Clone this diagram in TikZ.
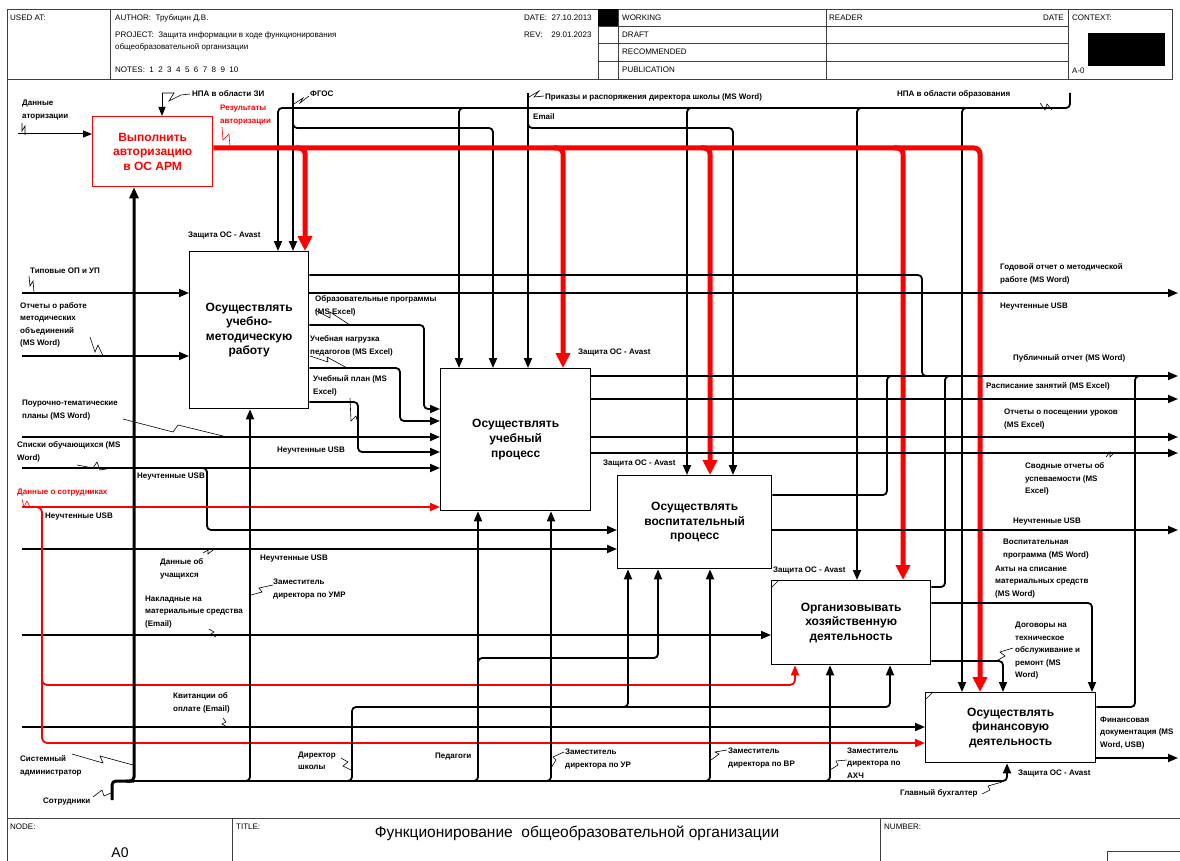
\documentclass[tikz,border=0pt]{standalone}
\usepackage{fontspec}
\setmainfont{Liberation Sans}
\usetikzlibrary{arrows.meta}
\begin{document}
\begin{tikzpicture}[x=1pt,y=-1pt,
  frame/.style={line width=0.8pt, draw=black!75},
  box/.style={draw, line width=1.3pt, fill=white, inner sep=0pt, anchor=north west,
    align=center, font=\fontsize{12}{14.6}\selectfont\bfseries},
  flow/.style={line width=1.8pt, rounded corners=4pt},
  arr/.style={flow, -{Triangle[length=10pt,width=8pt]}},
  thinarr/.style={line width=1pt, -{Triangle[length=9pt,width=7pt]}},
  redflow/.style={draw=red, line width=5pt, rounded corners=6pt},
  redarr/.style={redflow, -{Triangle[length=15pt,width=14pt]}},
  redthin/.style={draw=red, line width=1.8pt, rounded corners=5pt},
  redthinarr/.style={redthin, -{Triangle[length=10pt,width=8pt]}},
  lab/.style={font=\fontsize{8}{12.5}\selectfont\bfseries, align=left, inner sep=0pt, anchor=west},
  redlab/.style={lab, text=red},
  hdr/.style={font=\fontsize{8}{10}\selectfont, inner sep=0pt, anchor=west},
  leader/.style={line width=0.6pt},
  redleader/.style={line width=0.6pt, draw=red},
]
\useasboundingbox (0,0) rectangle (1180,861);

% ---------- header form ----------
\draw[frame] (7,9) rectangle (1172,79);
\draw[frame] (110,9) -- (110,79);
\draw[frame] (598,9) -- (598,79);
\draw[frame] (618,9) -- (618,79);
\draw[frame] (826,9) -- (826,79);
\draw[frame] (1068,9) -- (1068,79);
\foreach \y in {26,43,61} \draw[frame] (598,\y) -- (1068,\y);
\fill (598,9) rectangle (618,26);
\fill (1088,33) rectangle (1165,66);
\node[hdr] (h1) at (10,18) {USED AT:};
\node[hdr] (h2) at (115,18) {AUTHOR:\ \ Трубицин Д.В.};
\node[hdr] (h3) at (115,35) {PROJECT:\ \ Защита информации в ходе функционирования};
\node[hdr] (h4) at (115,47) {общеобразовательной организации};
\node[hdr] (h5) at (115,70) {NOTES:\ \ 1\ \ 2\ \ 3\ \ 4\ \ 5\ \ 6\ \ 7\ \ 8\ \ 9\ \ 10};
\node[hdr] (h6) at (524,18) {DATE:\ \ 27.10.2013};
\node[hdr] (h7) at (524,35) {REV:\ \ \ \ 29.01.2023};
\node[hdr] (h8) at (622,18) {WORKING};
\node[hdr] (h9) at (622,35) {DRAFT};
\node[hdr] (h10) at (622,52) {RECOMMENDED};
\node[hdr] (h11) at (622,70) {PUBLICATION};
\node[hdr] (h12) at (829,18) {READER};
\node[hdr, anchor=east] (h13) at (1064,18) {DATE};
\node[hdr] (h14) at (1072,18) {CONTEXT:};
\node[hdr] (h15) at (1072,71) {A-0};

% ---------- page frame and footer ----------
\draw[frame] (7,79) -- (7,861);
\draw[frame] (7,818) -- (1180,818);
\draw[frame] (232,818) -- (232,861);
\draw[frame] (880,818) -- (880,861);
\draw[frame] (1107,861) -- (1107,851) -- (1180,851);
\node[hdr] (f1) at (10,827) {NODE:};
\node[hdr] (f2) at (236,827) {TITLE:};
\node[hdr] (f3) at (884,827) {NUMBER:};
\node[font=\fontsize{14}{16}\selectfont, inner sep=0pt] (f4) at (120,853) {A0};
\node[font=\fontsize{15.5}{18}\selectfont, inner sep=0pt] (f5) at (577,833)
  {Функционирование\ \ общеобразовательной организации};

% ---------- activity boxes ----------
\node[box, draw=red, text=red, minimum width=120pt, minimum height=70pt] (bA) at (92,116)
  {Выполнить\\авторизацию\\в ОС АРМ};
\node[box, minimum width=119pt, minimum height=157pt] (b1) at (189,251)
  {Осуществлять\\учебно-\\методическую\\работу};
\node[box, minimum width=150pt, minimum height=142pt] (b2) at (440,368)
  {Осуществлять\\учебный\\процесс};
\node[box, minimum width=154pt, minimum height=93pt] (b3) at (617,475)
  {Осуществлять\\воспитательный\\процесс};
\node[box, minimum width=159pt, minimum height=84pt] (b4) at (771,580)
  {Организовывать\\хозяйственную\\деятельность};
\node[box, minimum width=170pt, minimum height=70pt] (b5) at (925,692)
  {Осуществлять\\финансовую\\деятельность};
\draw[leader] (771,588) -- (779,580);
\draw[leader] (925,700) -- (933,692);

% ---------- controls from the top ----------
\draw[thinarr] (162,93) -- (162,93 |- bA.north);
\draw[arr] (293,93) -- (293,93 |- b1.north);
\draw[arr] (293,120) -- (293,128) -- (493,128) -- (493,128 |- b2.north);
\draw[arr] (1070,93) -- (1070,108) -- (278,108) -- (278,108 |- b1.north);
\draw[arr] (466,108) -- (459,108) -- (459,108 |- b2.north);
\draw[arr] (694,108) -- (687,108) -- (687,108 |- b3.north);
\draw[arr] (864,108) -- (857,108) -- (857,108 |- b4.north);
\draw[arr] (969,108) -- (962,108) -- (962,108 |- b5.north);
\draw[arr] (528,93) -- (528,93 |- b2.north);
\draw[arr] (528,120) -- (528,128) -- (733,128) -- (733,128 |- b3.north);

% authorisation result (red bus)
\draw[redarr] (0,148 -| bA.east) -- (980,148) -- (980,148 |- b5.north);
\draw[redarr] (296,148) -- (305,148) -- (305,148 |- b1.north);
\draw[redarr] (554,148) -- (563,148) -- (563,148 |- b2.north);
\draw[redarr] (701,148) -- (710,148) -- (710,148 |- b3.north);
\draw[redarr] (894,148) -- (903,148) -- (903,148 |- b4.north);

% ---------- inputs from the left ----------
\draw[thinarr] (18,134) -- (18,134 -| bA.west);
\draw[arr] (22,293) -- (22,293 -| b1.west);
\draw[arr] (22,356) -- (22,356 -| b1.west);
\draw[arr] (22,437) -- (22,437 -| b2.west);
\draw[arr] (22,468) -- (22,468 -| b2.west);
\draw[arr] (200,468) -- (207,468) -- (207,530) -- (207,530 -| b3.west);
\draw[arr] (22,549) -- (22,549 -| b3.west);
\draw[arr] (22,635) -- (22,635 -| b4.west);
\draw[arr] (22,727) -- (22,727 -| b5.west);
\draw[redthinarr] (22,507) -- (22,507 -| b2.west);
\draw[redthinarr] (35,507) -- (42,507) -- (42,743) -- (42,743 -| b5.west);
\draw[redthinarr] (42,678) -- (42,685) -- (795,685) -- (795,685 |- b4.south);

% ---------- outputs of the methodical work ----------
\draw[flow] (b1.east |- 0,275) -- (922,275) -- (922,376) -- (932,376);
\draw[arr] (b1.east |- 0,293) -- (1178,293);
\draw[arr] (b1.east |- 0,325) -- (424,325) -- (424,409) -- (424,409 -| b2.west);
\draw[arr] (b1.east |- 0,368) -- (400,368) -- (400,421) -- (400,421 -| b2.west);
\draw[arr] (b1.east |- 0,402) -- (358,402) -- (358,452) -- (358,452 -| b2.west);

% outputs of the teaching process
\draw[arr] (b2.east |- 0,376) -- (1178,376);
\draw[arr] (b2.east |- 0,399) -- (1178,399);
\draw[arr] (b2.east |- 0,437) -- (1178,437);
\draw[arr] (b2.east |- 0,453) -- (1178,453);

% outputs of the upbringing process
\draw[flow] (b3.east |- 0,495) -- (887,495) -- (887,376) -- (897,376);
\draw[arr] (b3.east |- 0,530) -- (1178,530);

% outputs of the economic activity
\draw[flow] (b4.east |- 0,587) -- (945,587) -- (945,376) -- (955,376);
\draw[arr] (b4.east |- 0,603) -- (1092,603) -- (1092,603 |- b5.north);
\draw[arr] (b4.east |- 0,661) -- (1003,661) -- (1003,661 |- b5.north);

% outputs of the financial activity
\draw[flow] (b5.east |- 0,707) -- (1135,707) -- (1135,376) -- (1145,376);
\draw[arr] (b5.east |- 0,758) -- (1178,758);

% ---------- mechanisms from the bottom ----------
\draw[arr] (128,781) -- (1007,781) -- (1007,781 |- b5.south);
\draw[flow, line width=3pt] (112,800) -- (112,781) -- (134,781);
\draw[flow, line width=3pt, -{Triangle[length=11pt,width=9pt]}] (126,781) -- (134,781) -- (134,781 |- bA.south);
\draw[arr] (243,781) -- (250,781) -- (250,781 |- b1.south);
\draw[arr] (345,781) -- (352,781) -- (352,707) -- (890,707) -- (890,707 |- b4.south);
\draw[arr] (621,707) -- (628,707) -- (628,707 |- b3.south);
\draw[arr] (471,781) -- (478,781) -- (478,781 |- b2.south);
\draw[arr] (478,665) -- (478,658) -- (658,658) -- (658,658 |- b3.south);
\draw[arr] (544,781) -- (551,781) -- (551,781 |- b2.south);
\draw[arr] (703,781) -- (710,781) -- (710,781 |- b3.south);
\draw[arr] (823,781) -- (830,781) -- (830,781 |- b4.south);

% ---------- labels ----------
\node[lab] (t1) at (22,110) {Данные\\аторизации};
\node[lab] (t2) at (192,94) {НПА в области ЗИ};
\node[redlab] (t3) at (220,115) {Результаты\\авторизации};
\node[lab] (t4) at (310,94) {ФГОС};
\node[lab] (t5) at (545,97) {Приказы и распоряжения директора школы (MS Word)};
\node[lab] (t6) at (533,117) {Email};
\node[lab] (t7) at (897,94) {НПА в области образования};
\node[lab] (t8) at (188,236) {Защита ОС - Avast};
\node[lab] (t9) at (578,353) {Защита ОС - Avast};
\node[lab] (t10) at (603,464) {Защита ОС - Avast};
\node[lab] (t11) at (773,570) {Защита ОС - Avast};
\node[lab] (t12) at (1018,773) {Защита ОС - Avast};
\node[lab] (t13) at (30,271) {Типовые ОП и УП};
\node[lab] (t14) at (20,325) {Отчеты о работе\\методических\\объединений\\(MS Word)};
\node[lab] (t15) at (315,306) {Образовательные программы\\(MS Excel)};
\node[lab] (t16) at (310,346) {Учебная нагрузка\\педагогов (MS Excel)};
\node[lab] (t17) at (313,386) {Учебный план (MS\\Excel)};
\node[lab] (t18) at (22,410) {Поурочно-тематические\\планы (MS Word)};
\node[lab] (t19) at (17,452) {Списки обучающихся (MS\\Word)};
\node[lab] (t20) at (277,451) {Неучтенные USB};
\node[lab] (t21) at (137,477) {Неучтенные USB};
\node[redlab] (t22) at (17,493) {Данные о сотрудниках};
\node[lab] (t23) at (45,517) {Неучтенные USB};
\node[lab] (t24) at (260,559) {Неучтенные USB};
\node[lab] (t25) at (160,569) {Данные об\\учащихся};
\node[lab] (t26) at (273,589) {Заместитель\\директора по УМР};
\node[lab] (t27) at (145,612) {Накладные на\\материальные средства\\(Email)};
\node[lab] (t28) at (173,703) {Квитанции об\\оплате (Email)};
\node[lab] (t29) at (20,766) {Системный\\администратор};
\node[lab] (t30) at (43,802) {Сотрудники};
\node[lab] (t31) at (298,761) {Директор\\школы};
\node[lab] (t32) at (435,757) {Педагоги};
\node[lab] (t33) at (565,759) {Заместитель\\директора по УР};
\node[lab] (t34) at (728,758) {Заместитель\\директора по ВР};
\node[lab] (t35) at (847,763) {Заместитель\\директора по\\АХЧ};
\node[lab] (t36) at (900,793) {Главный бухгалтер};
\node[lab] (t37) at (1000,274) {Годовой отчет о методической\\работе (MS Word)};
\node[lab] (t38) at (1000,307) {Неучтенные USB};
\node[lab] (t39) at (1013,358) {Публичный отчет (MS Word)};
\node[lab] (t40) at (986,386) {Расписание занятий (MS Excel)};
\node[lab] (t41) at (1004,419) {Отчеты о посещении уроков\\(MS Excel)};
\node[lab] (t42) at (1025,479) {Сводные отчеты об\\успеваемости (MS\\Excel)};
\node[lab] (t43) at (1013,522) {Неучтенные USB};
\node[lab] (t44) at (1003,549) {Воспитательная\\программа (MS Word)};
\node[lab] (t45) at (995,582) {Акты на списание\\материальных средств\\(MS Word)};
\node[lab] (t46) at (1015,651) {Договоры на\\техническое\\обслуживание и\\ремонт (MS\\Word)};
\node[lab] (t47) at (1100,733) {Финансовая\\документация (MS\\Word, USB)};

% ---------- label leaders ----------
\draw[leader] (22,123) -- (22,131) -- (25,126) -- (25,135);
\draw[leader] (162,93) -- (174,93) -- (169,101) -- (181,95) -- (190,94);
\draw[redleader] (222,127) -- (223,140) -- (229,134) -- (230,147);
\draw[leader] (294,104) -- (303,98) -- (300,103) -- (309,96);
\draw[leader] (529,97) -- (539,91) -- (534,97) -- (544,96);
\draw[leader] (1040,103) -- (1045,110) -- (1047,104) -- (1052,110);
\draw[leader] (29,276) -- (30,286) -- (33,281) -- (34,292);
\draw[leader] (90,337) -- (95,352) -- (98,345) -- (103,356);
\draw[leader] (123,419) -- (173,432) -- (178,425) -- (227,437);
\draw[leader] (77,465) -- (93,468) -- (97,462) -- (100,470) -- (112,468);
\draw[redleader] (22,499) -- (24,507) -- (27,501) -- (30,507);
\draw[leader] (315,310) -- (330,318) -- (330,312) -- (350,325);
\draw[leader] (310,356) -- (328,362) -- (327,357) -- (347,368);
\draw[leader] (350,398) -- (351,421) -- (356,416) -- (358,424);
\draw[leader] (203,553) -- (208,550) -- (208,554) -- (213,550);
\draw[leader] (251,595) -- (262,592) -- (259,588) -- (273,585);
\draw[leader] (209,629) -- (214,632) -- (211,634) -- (216,637);
\draw[leader] (223,718) -- (226,722) -- (222,724) -- (227,727);
\draw[leader] (72,754) -- (103,763) -- (100,756) -- (133,765);
\draw[leader] (93,797) -- (102,790) -- (104,796) -- (111,793);
\draw[leader] (341,758) -- (348,762) -- (343,766) -- (351,770);
\draw[leader] (551,768) -- (556,760) -- (553,757) -- (564,752);
\draw[leader] (711,760) -- (719,754) -- (715,752) -- (727,750);
\draw[leader] (830,770) -- (838,765) -- (836,761) -- (847,760);
\draw[leader] (982,794) -- (990,790) -- (988,786) -- (1002,782);
\draw[leader] (1106,457) -- (1110,452) -- (1110,457) -- (1115,452);
\draw[leader] (998,660) -- (1005,656) -- (1000,652) -- (1013,648);
\end{tikzpicture}
\end{document}
